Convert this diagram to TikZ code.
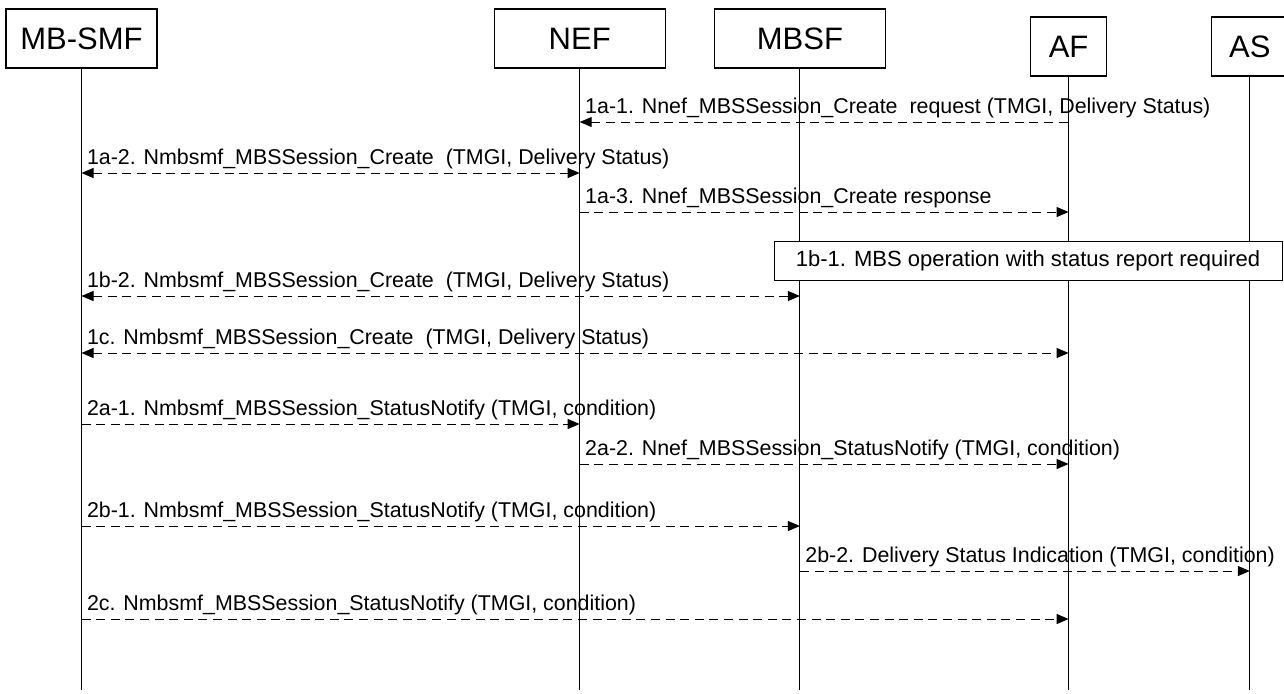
\documentclass[tikz,border=0pt]{standalone}
\usepackage{fontspec}
\setmainfont{Liberation Sans}
\usetikzlibrary{arrows.meta, positioning}

\begin{document}
\begin{tikzpicture}[
    x=0.5pt, y=-0.5pt,
    node distance=24pt and 24pt,
    every node/.style={align=center},
    actor/.style={rectangle, draw, line width=0.6pt, minimum height=29.5pt, inner sep=0pt, font=\fontsize{15.5}{18}\selectfont},
    note/.style={rectangle, draw, fill=white, line width=0.5pt, minimum width=254pt, minimum height=19.5pt, inner sep=0pt, font=\fontsize{11}{13}\selectfont},
    lifeline/.style={line width=0.5pt},
    msg/.style={dash pattern=on 4.5pt off 2.8pt, line width=0.5pt},
    arrow/.style={msg, -{Triangle[length=6pt, width=5pt]}},
    backarrow/.style={msg, {Triangle[length=6pt, width=5pt]}-},
    twoway/.style={msg, {Triangle[length=6pt, width=5pt]}-{Triangle[length=6pt, width=5pt]}},
    lbl/.style={anchor=base west, inner sep=0pt, xshift=2.5pt, yshift=4.5pt, font=\fontsize{10.7}{13}\selectfont}
]
\useasboundingbox (0,0) rectangle (1284,693);

% Nodes
\node[actor, minimum width=75.5pt] (mbsmf) at (81.5,38.5) {MB-SMF};
\node[actor, minimum width=85.5pt, right=168pt of mbsmf] (nef) {NEF};
\node[actor, minimum width=85.5pt, right=24pt of nef] (mbsf) {MBSF};
\node[actor, minimum width=38pt, right=72pt of mbsf, yshift=-4pt] (af) {AF};
\node[actor, minimum width=38pt, right=52pt of af] (as) {AS};

% Lifelines
\coordinate (bottom) at (0,690);
\draw[lifeline] (mbsmf) -- (mbsmf |- bottom);
\draw[lifeline] (nef) -- (nef |- bottom);
\draw[lifeline] (mbsf) -- (mbsf |- bottom);
\draw[lifeline] (af) -- (af |- bottom);
\draw[lifeline] (as) -- (as |- bottom);

\node[note] (note1b) at (1028,260.5) {1b-1. MBS operation with status report required};

% Messages
\coordinate (y1a1) at (0,122);
\coordinate (y1a2) at (0,173);
\coordinate (y1a3) at (0,212);
\coordinate (y1b2) at (0,296);
\coordinate (y1c) at (0,353);
\coordinate (y2a1) at (0,424);
\coordinate (y2a2) at (0,464);
\coordinate (y2b1) at (0,526);
\coordinate (y2b2) at (0,571);
\coordinate (y2c) at (0,619);

\draw[backarrow] (nef |- y1a1) -- node[lbl, pos=0]{1a-1. Nnef\_MBSSession\_Create\ \ request (TMGI, Delivery Status)} (af |- y1a1);
\draw[twoway] (mbsmf |- y1a2) -- node[lbl, pos=0]{1a-2. Nmbsmf\_MBSSession\_Create\ \ (TMGI, Delivery Status)} (nef |- y1a2);
\draw[arrow] (nef |- y1a3) -- node[lbl, pos=0]{1a-3. Nnef\_MBSSession\_Create response} (af |- y1a3);
\draw[twoway] (mbsmf |- y1b2) -- node[lbl, pos=0]{1b-2. Nmbsmf\_MBSSession\_Create\ \ (TMGI, Delivery Status)} (mbsf |- y1b2);
\draw[twoway] (mbsmf |- y1c) -- node[lbl, pos=0]{1c. Nmbsmf\_MBSSession\_Create\ \ (TMGI, Delivery Status)} (af |- y1c);
\draw[arrow] (mbsmf |- y2a1) -- node[lbl, pos=0]{2a-1. Nmbsmf\_MBSSession\_StatusNotify (TMGI, condition)} (nef |- y2a1);
\draw[arrow] (nef |- y2a2) -- node[lbl, pos=0]{2a-2. Nnef\_MBSSession\_StatusNotify (TMGI, condition)} (af |- y2a2);
\draw[arrow] (mbsmf |- y2b1) -- node[lbl, pos=0]{2b-1. Nmbsmf\_MBSSession\_StatusNotify (TMGI, condition)} (mbsf |- y2b1);
\draw[arrow] (mbsf |- y2b2) -- node[lbl, pos=0]{2b-2. Delivery Status Indication (TMGI, condition)} (as |- y2b2);
\draw[arrow] (mbsmf |- y2c) -- node[lbl, pos=0]{2c. Nmbsmf\_MBSSession\_StatusNotify (TMGI, condition)} (af |- y2c);

\end{tikzpicture}
\end{document}
